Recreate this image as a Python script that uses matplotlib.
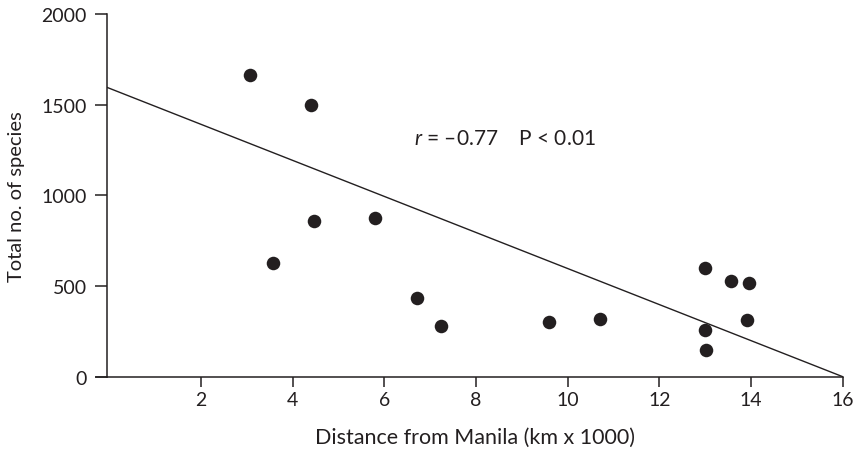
import matplotlib
matplotlib.use("Agg")
import matplotlib.pyplot as plt
import numpy as np

# Distance from Manila (thousands of km) and total species count per site
distance = [3.07, 4.39, 3.57, 4.47, 5.80, 6.71, 7.23, 9.59, 10.71,
            12.99, 13.57, 13.95, 13.91, 12.99, 13.01]
species = [1665, 1498, 628, 857, 873, 432, 278, 300, 320,
           601, 528, 515, 314, 257, 146]

# Fitted regression line (species = intercept + slope * distance)
line_intercept = 1590
line_slope = -1590 / 16
line_x = [-0.06, 16]

x_ticks = [2, 4, 6, 8, 10, 12, 14, 16]
y_ticks = [0, 500, 1000, 1500, 2000]

ink = "#231f20"
plt.rcParams["font.family"] = ["Lato", "DejaVu Sans"]
plt.rcParams["mathtext.fontset"] = "custom"
plt.rcParams["mathtext.it"] = "Lato:italic"
plt.rcParams["mathtext.rm"] = "Lato"

fig = plt.figure(figsize=(8.58, 4.64), dpi=100)
ax = fig.add_axes([0.1244, 0.186, 0.9822 - 0.1244, 0.9677 - 0.186])

ax.scatter(distance, species, s=95, color=ink, zorder=3, linewidths=0)
ly = [line_intercept + line_slope * v for v in line_x]
ax.plot(line_x, ly, color=ink, lw=1.0, zorder=2)

ax.text(6.65, 1316, r"$\mathit{r}$ = –0.77    P < 0.01", fontsize=15,
        color=ink, va="center", ha="left")

ax.set_xlim(-0.06, 16)
ax.set_ylim(0, 2000)
ax.set_xticks(x_ticks)
ax.set_yticks(y_ticks)
ax.set_xticklabels([str(t) for t in x_ticks])
ax.set_yticklabels([str(t) for t in y_ticks])

for side in ("top", "right"):
    ax.spines[side].set_visible(False)
for side in ("left", "bottom"):
    ax.spines[side].set_linewidth(1.1)
    ax.spines[side].set_color(ink)

ax.tick_params(axis="y", direction="out", length=8.5, width=1.1, pad=6,
               labelsize=14, colors=ink)
ax.tick_params(axis="x", direction="out", length=7, width=1.1, pad=3,
               labelsize=14, colors=ink)

# y-axis baseline stub extending left of the origin
ax.plot([-0.3, -0.06], [0, 0], color=ink, lw=1.1, clip_on=False)

ax.set_xlabel("Distance from Manila (km x 1000)", fontsize=15.5, color=ink,
              labelpad=14)
ax.set_ylabel("Total no. of species", fontsize=14.5, color=ink, labelpad=12)

fig.savefig("out.png", dpi=100)
